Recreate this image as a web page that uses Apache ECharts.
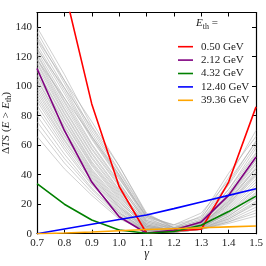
<!DOCTYPE html>
<html><head><meta charset="utf-8">
<script src="https://cdn.jsdelivr.net/npm/echarts@6/dist/echarts.min.js"></script>
<style>html,body{margin:0;padding:0;background:#fff}#c{width:266px;height:266px}</style>
</head><body><div id="c"></div>
<script>
const gammas = [0.7, 0.8, 0.9, 1.0, 1.1, 1.2, 1.3, 1.4, 1.5];
const xTicks = [0.7, 0.8, 0.9, 1.0, 1.1, 1.2, 1.3, 1.4, 1.5];
const yTicks = [0, 20, 40, 60, 80, 100, 120, 140];

const names = ['0.50 GeV', '2.12 GeV', '4.32 GeV', '12.40 GeV', '39.36 GeV'];
const colors = ['#ff0000', '#800080', '#008000', '#0000ff', '#ffa500'];
const red = [260, 166, 88, 32, 0.3, 1.8, 3, 35, 86];
const purple = [112, 70, 35, 11.5, 0.3, 2.5, 8, 26, 52];
const green = [34, 20, 9.3, 2.5, 0.3, 1.5, 5.7, 15, 25.5];
const blue = [0, 3.2, 6.4, 9.6, 12.7, 17, 21.5, 26, 30.5];
const orange = [0, 0.5, 1.2, 2.0, 2.8, 3.4, 4.0, 4.6, 5.2];

const g01 = [140,108,73,46,13,5,10,38,70];
const g02 = [137,104,70,42,12,4,12,41,66];
const g03 = [134,102,68,40,11,6,14,36,62];
const g04 = [131,99,66,39,10,4,9,33,60];
const g05 = [128,97,65,38,9,3,8,30,58];
const g06 = [126,95,64,37,12,6,11,34,63];
const g07 = [124,92,61,35,8,3,8,28,54];
const g08 = [122,90,60,34,9,4,9,30,55];
const g09 = [121,89,58,33,7,2,7,26,50];
const g10 = [119,87,57,32,8,3,8,27,52];
const g11 = [118,85,55,30,6,2,6,24,47];
const g12 = [116,84,54,29,7,3,7,25,48];
const g13 = [115,82,52,28,5,2,6,22,44];
const g14 = [113,81,51,27,6,2,6,23,45];
const g15 = [111,79,49,26,5,1,5,20,41];
const g16 = [110,78,48,25,6,2,6,21,42];
const g17 = [108,76,47,24,4,1,5,19,39];
const g18 = [107,75,46,23,5,2,5,18,37];
const g19 = [105,73,44,22,4,1,4,17,35];
const g20 = [104,72,43,21,5,2,5,16,33];
const g21 = [102,70,42,20,3,1,4,15,31];
const g22 = [100,69,41,19,4,2,4,14,30];
const g23 = [98,67,40,18,3,1,4,14,28];
const g24 = [96,66,39,18,4,1,5,13,27];
const g25 = [94,64,38,17,3,1,4,12,25];
const g26 = [92,63,37,16,3,1,3,12,24];
const g27 = [90,61,36,15,2,1,3,11,22];
const g28 = [87,59,34,14,3,1,4,10,21];
const g29 = [84,57,33,14,2,1,3,10,20];
const g30 = [80,54,31,13,2,1,3,9,18];
const g31 = [76,51,30,12,2,1,3,8,16];
const g32 = [72,48,28,11,2,1,3,8,14];
const g33 = [66,44,26,10,2,1,3,7,12];
const g34 = [132,104,76,46,14,4,6,22,44];
const g35 = [125,99,72,43,13,4,7,25,50];
const g36 = [118,92,66,40,11,3,6,20,40];
const grayLines = [g01,g02,g03,g04,g05,g06,g07,g08,g09,g10,g11,g12,g13,g14,g15,g16,g17,g18,
  g19,g20,g21,g22,g23,g24,g25,g26,g27,g28,g29,g30,g31,g32,g33,g34,g35,g36];
const colored = [red, purple, green, blue, orange];

const serif = "'Liberation Serif', 'DejaVu Serif', serif";
const pair = arr => gammas.map((g, i) => [g, arr[i]]);

const series = [];
grayLines.forEach((arr, k) => series.push({
  type: 'line', name: 'g' + k, data: pair(arr), symbol: 'none', silent: true,
  lineStyle: { color: '#a8a8a8', width: 1, opacity: 0.55 }, z: 1
}));
colored.forEach((arr, k) => series.push({
  type: 'line', name: names[k], data: pair(arr), symbol: 'none', clip: true,
  lineStyle: { color: colors[k], width: 1.6 }, itemStyle: { color: colors[k] }, z: 3 + k
}));

const axisCommon = {
  axisLine: { show: true, onZero: false, lineStyle: { color: '#000', width: 1.2 } },
  axisTick: { show: true, inside: true, length: 4, lineStyle: { color: '#000', width: 1 } },
  splitLine: { show: false }
};

const chart = echarts.init(document.getElementById('c'), null, { renderer: 'canvas' });
chart.setOption({
  animation: false,
  backgroundColor: '#fff',
  grid: { left: 37, right: 10, top: 12.5, bottom: 32.3, containLabel: false, outerBoundsMode: 'none' },
  legend: {
    data: names, orient: 'vertical', left: 173, top: 35, icon: 'rect',
    itemWidth: 15, itemHeight: 1.6, itemGap: 0,
    textStyle: { fontFamily: serif, fontSize: 11, color: '#222', lineHeight: 13.4, padding: [0, 0, 0, 3] }
  },
  graphic: [{
    type: 'text', left: 196, top: 18,
    style: {
      text: '{i|E}{s|th}{n| =}',
      rich: {
        i: { fontFamily: serif, fontStyle: 'italic', fontSize: 11, fill: '#222' },
        s: { fontFamily: serif, fontSize: 8, fill: '#222', padding: [6, 0, 0, 0] },
        n: { fontFamily: serif, fontSize: 11, fill: '#222' }
      }
    }
  }],
  xAxis: [
    Object.assign({}, axisCommon, {
      type: 'value', min: 0.7, max: 1.5, interval: 0.1, position: 'bottom',
      axisLabel: { fontFamily: serif, fontSize: 11, color: '#222', margin: 4,
        formatter: v => v.toFixed(1) },
      name: 'γ', nameLocation: 'middle', nameGap: 14, nameMoveOverlap: false,
      nameTextStyle: { fontFamily: serif, fontStyle: 'italic', fontSize: 12, color: '#222' }
    }),
    Object.assign({}, axisCommon, {
      type: 'value', min: 0.7, max: 1.5, interval: 0.1, position: 'top',
      axisLabel: { show: false }
    })
  ],
  yAxis: [
    Object.assign({}, axisCommon, {
      type: 'value', min: 0, max: 150, interval: 20, position: 'left',
      axisLabel: { fontFamily: serif, fontSize: 11, color: '#222', margin: 5,
        formatter: v => (yTicks.indexOf(v) >= 0 ? String(v) : '') },
      name: '{n|Δ}{i|TS} {n|(}{i|E} {n|>} {i|E}{s|th}{n|)}',
      nameLocation: 'middle', nameGap: 24, nameRotate: 90, nameMoveOverlap: false,
      nameTextStyle: {
        rich: {
          n: { fontFamily: serif, fontSize: 11, color: '#222' },
          i: { fontFamily: serif, fontStyle: 'italic', fontSize: 11, color: '#222' },
          s: { fontFamily: serif, fontSize: 8, color: '#222', padding: [6, 0, 0, 0] }
        }
      }
    }),
    Object.assign({}, axisCommon, {
      type: 'value', min: 0, max: 150, interval: 20, position: 'right',
      axisLabel: { show: false }
    })
  ],
  series: series
});
</script></body></html>
